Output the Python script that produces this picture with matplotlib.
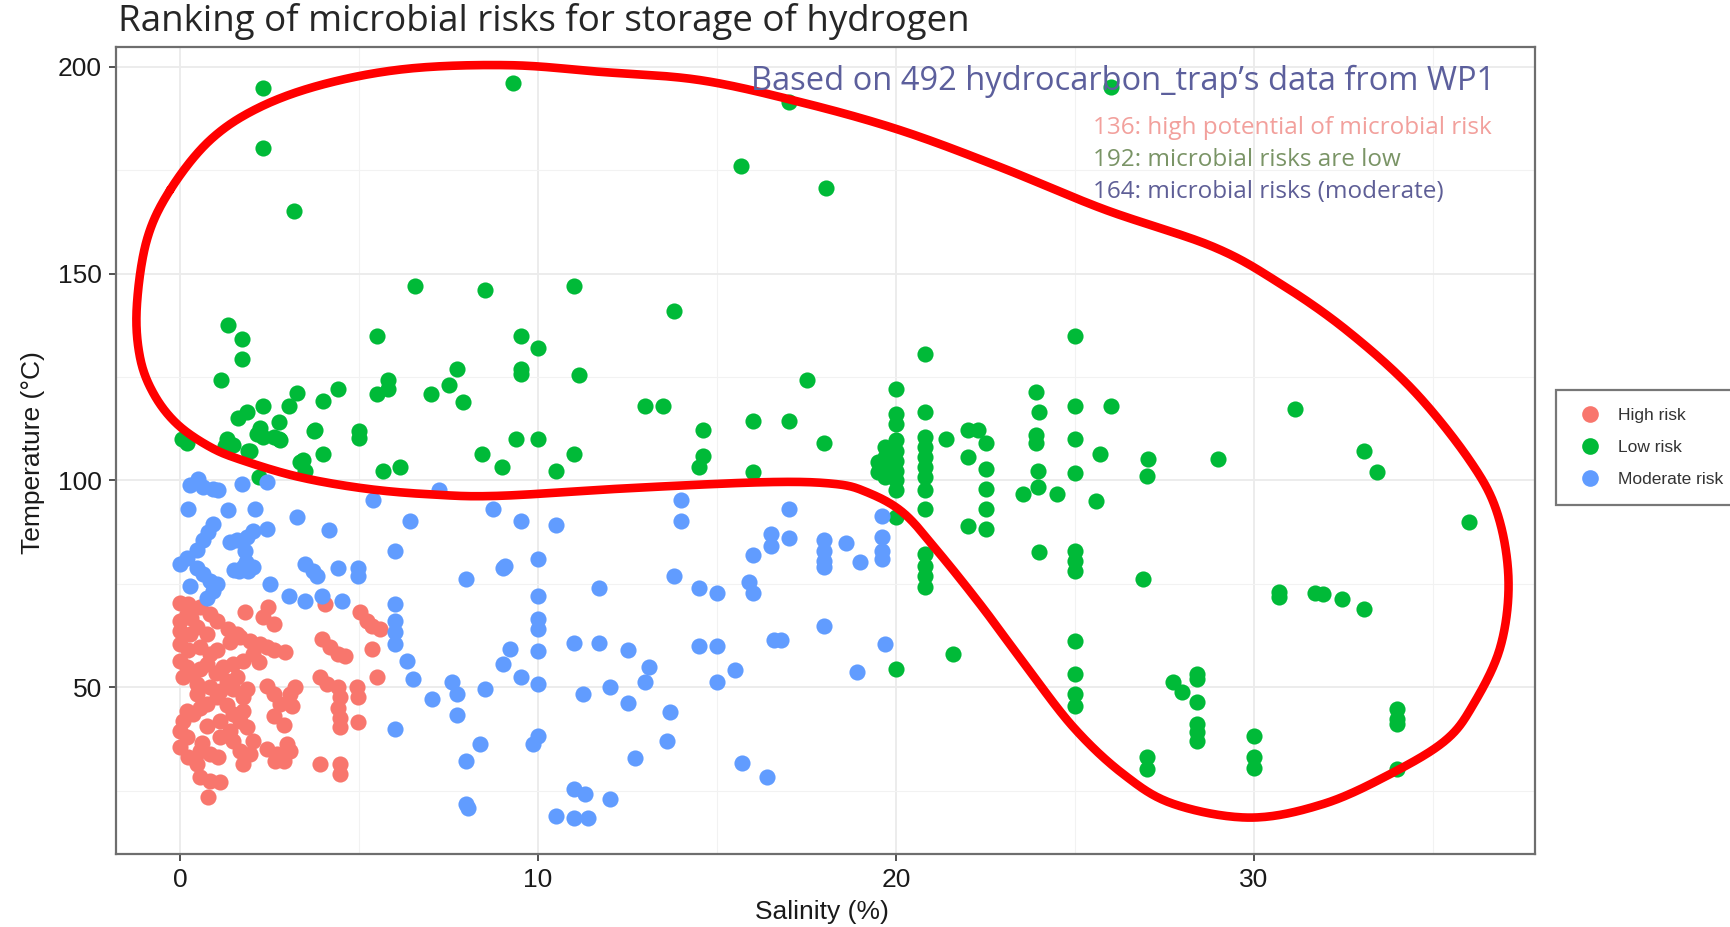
import numpy as np
import matplotlib
matplotlib.use("Agg")
import matplotlib.pyplot as plt
from matplotlib.lines import Line2D

# salinity (%) / temperature (degC) per trap and risk class
high_x = [0.0, 0.23, 0.56, 0.19, 0.0, 0.84, 1.02, 0.0, 0.47, 0.74, 1.35, 1.58, 1.81, 2.47, 2.33, 2.61,
          0.0, 0.23, 0.56, 0.84, 1.02, 1.40, 1.68, 1.96, 2.23, 2.42, 2.61, 2.93, 2.05, 1.77, 1.49, 1.21,
          0.0, 0.19, 0.37, 0.56, 0.74, 0.09, 0.47, 0.84, 1.12, 1.49, 1.86, 1.77, 1.02, 0.74, 0.47,
          2.42, 2.61, 2.79, 3.07, 3.21, 3.12, 2.61, 0.09, 0.0, 0.19, 0.37, 0.74, 1.12, 1.49, 1.68,
          1.86, 1.40, 1.49, 1.68, 1.77, 1.96, 2.05, 1.12, 0.0, 0.23, 0.56, 0.84, 1.07, 0.47, 0.56,
          0.84, 1.12, 0.79, 2.42, 2.70, 2.98, 3.07, 2.65, 2.89, 3.96, 4.19, 4.42, 4.61, 3.91, 4.47,
          4.47, 4.05, 5.03, 5.21, 5.35, 5.59, 5.35, 5.49, 3.91, 4.10, 4.42, 4.47, 4.42, 4.47, 4.47,
          4.93, 4.98, 4.98, 0.28, 1.30, 1.58, 0.19, 0.56, 1.77, 0.30, 1.00, 2.20, 2.90, 0.60, 1.30]
high_y = [70.5, 70.1, 69.3, 67.7, 66.1, 67.7, 66.1, 63.7, 64.5, 62.9, 64.1, 62.9, 68.1, 69.3, 66.9, 65.3,
          60.5, 58.9, 59.7, 58.0, 58.9, 60.9, 62.1, 61.3, 60.5, 59.7, 58.9, 58.5, 58.0, 56.4, 55.6, 54.8,
          56.4, 54.8, 53.2, 54.4, 55.6, 52.4, 50.8, 50.0, 49.2, 49.6, 49.6, 47.6, 47.6, 46.0, 48.4,
          50.4, 48.4, 46.0, 48.4, 50.0, 45.5, 43.1, 41.9, 39.5, 37.9, 43.5, 40.7, 41.9, 43.5, 41.9,
          40.3, 39.5, 37.1, 34.7, 31.4, 33.9, 37.1, 37.9, 35.5, 33.1, 34.7, 33.9, 33.1, 31.4, 28.2,
          27.4, 27.0, 23.4, 35.1, 33.9, 36.3, 34.7, 32.2, 32.2, 61.7, 59.7, 58.0, 57.6, 31.4, 31.4,
          29.0, 70.1, 68.1, 66.1, 64.9, 64.1, 59.3, 52.4, 52.4, 50.8, 50.0, 47.6, 45.1, 42.7, 40.3,
          50.0, 47.6, 41.5, 62.9, 51.6, 52.4, 44.3, 45.1, 44.3, 66.8, 53.5, 56.0, 41.0, 36.5, 45.8]

low_x = [2.31, 9.29, 17.0, 26.0, 2.31, 3.18, 15.67, 18.03,
         6.55, 8.51, 11.0, 13.8, 1.35, 1.72, 1.72, 1.14, 5.49, 9.52, 10.0, 9.52, 9.52, 11.14, 7.73,
         7.5, 7.9, 7.01, 5.82, 5.82, 5.49, 4.42, 4.0, 3.26, 3.03, 2.31, 1.86, 1.63, 2.75, 2.23, 2.33,
         2.75, 1.3, 1.26, 0.05, 0.2, 1.91, 3.75, 5.0, 5.0, 9.38, 9.99, 8.43, 11.0, 4.0, 3.44,
         25.0, 20.8, 17.5, 13.0, 13.5, 20.0, 23.9, 25.0, 26.0, 20.8, 24.0, 16.0, 17.0, 14.6, 18.0,
         21.4, 22.0, 22.3, 22.5, 23.9, 23.9, 25.0, 25.7, 14.6, 14.5, 10.5, 9.0, 16.0, 21.6, 20.0, 20.0,
         20.0, 20.0, 20.0, 20.0, 20.0, 20.0, 20.0, 20.0,
         19.7, 19.7, 19.7, 19.7, 19.5, 19.5,
         20.8, 20.8, 20.8, 20.8, 20.8, 20.8, 20.8, 20.8, 20.8, 20.8, 20.8,
         22.0, 22.5, 22.5, 22.5, 22.5, 22.0,
         23.98, 23.98, 23.56, 24.49, 25.0, 25.0, 25.0, 25.0, 25.0, 25.0, 25.0, 25.0, 25.6, 24.0,
         27.05, 27.0, 26.9, 29.0, 27.0, 27.0, 27.75, 27.98, 28.4, 28.4, 28.4, 28.4, 28.4, 28.4,
         30.0, 30.0, 30.0, 31.15, 30.7, 30.7, 31.7, 31.94, 32.45, 33.06, 33.06, 33.43, 36.0,
         34.0, 34.0, 34.0, 34.0,
         1.30, 1.49, 2.14, 2.61, 2.79, 1.96, 2.2, 3.35, 3.49, 3.77, 5.68, 6.14]
low_y = [195.0, 196.0, 191.5, 195.2, 180.5, 165.1, 176.0, 170.8,
         147.0, 146.0, 147.0, 141.0, 137.5, 134.2, 129.4, 124.2, 134.9, 134.9, 132.1, 127.0, 125.8, 125.6, 127.0,
         123.1, 118.9, 120.8, 124.2, 122.2, 121.0, 122.0, 119.1, 121.1, 118.1, 118.1, 116.5, 115.1, 114.2, 112.6, 110.4,
         110.0, 110.0, 108.4, 110.0, 109.0, 107.2, 111.9, 112.0, 110.3, 110.0, 110.0, 106.4, 106.4, 106.4, 105.0,
         134.9, 130.6, 124.4, 118.0, 118.0, 122.0, 121.3, 118.0, 118.0, 116.5, 116.5, 114.3, 114.3, 112.3, 109.1,
         110.1, 112.1, 112.1, 109.1, 111.0, 109.0, 110.1, 106.4, 106.0, 103.2, 102.3, 103.2, 102.0, 58.0, 54.4, 91.1,
         116.1, 113.7, 109.7, 107.2, 104.8, 102.4, 100.0, 97.6,
         108.1, 105.7, 103.3, 100.9, 104.5, 102.0,
         110.4, 108.0, 105.6, 103.2, 100.8, 97.6, 93.1, 82.3, 79.3, 77.0, 74.2,
         105.6, 102.8, 98.0, 93.1, 88.3, 89.1,
         102.4, 98.4, 96.8, 96.8, 101.8, 83.0, 80.6, 78.2, 61.3, 53.2, 48.4, 45.5, 95.0, 82.8,
         105.2, 101.2, 76.2, 105.2, 33.1, 30.2, 51.2, 48.8, 53.2, 52.0, 46.4, 41.1, 39.1, 37.1,
         38.3, 33.1, 30.6, 117.3, 73.0, 71.8, 72.9, 72.5, 71.3, 68.9, 107.2, 102.0, 89.9,
         44.7, 42.3, 41.1, 30.2,
         108.9, 108.5, 111.3, 110.5, 109.7, 107.2, 100.8, 104.4, 102.4, 112.1, 102.4, 103.2]

moderate_x = [0.51, 0.28, 0.65, 0.93, 1.07, 1.72, 2.42, 0.23, 1.35, 2.09, 3.26, 4.17, 0.93, 0.79, 0.65,
              2.42, 2.05, 1.86, 1.58, 1.40, 1.8, 1.85, 1.75, 1.65, 1.9, 1.5, 2.05, 0.47, 0.19, 0.0, 0.47,
              0.65, 0.84, 1.03, 0.93, 0.75, 0.28, 2.51, 6.0, 6.42, 5.4, 7.22, 8.75, 3.49, 3.72, 3.82,
              4.42, 4.98, 4.98, 3.03, 3.49, 3.96, 4.52, 6.0, 6.0, 6.0, 6.0, 6.33, 6.52, 7.03, 7.59,
              7.73, 7.73, 8.52, 8.0, 9.03, 6.0, 8.38, 8.0, 8.0, 8.05,
              14.0, 14.0, 9.52, 10.5, 17.0, 16.5, 16.5, 16.0, 17.0, 18.0, 18.0, 18.0, 18.0, 18.6, 19.0,
              19.6, 19.6, 19.6, 19.6, 9.99, 9.08, 13.8, 11.7, 14.5, 15.0, 15.9, 16.0, 9.99, 9.99, 9.99,
              9.99, 9.22, 9.03, 9.52, 9.99, 11.0, 11.7, 12.5, 14.5, 15.0, 16.6, 16.8, 18.0, 19.7, 18.9,
              15.5, 15.0, 13.1, 13.0, 12.0, 11.25, 12.5, 13.7, 13.6, 12.7, 9.99, 9.87, 15.7, 16.4, 12.0,
              11.0, 11.3, 10.5, 11.0, 11.4]
moderate_y = [100.4, 98.8, 98.4, 98.0, 97.6, 99.2, 99.6, 93.1, 92.9, 93.1, 91.1, 88.0, 89.5, 87.5, 85.5,
              88.3, 87.9, 86.3, 85.5, 85.1, 82.9, 80.4, 79.2, 78.0, 78.0, 78.4, 79.2, 83.3, 81.3, 79.7, 78.9,
              77.3, 75.7, 74.9, 73.3, 71.7, 74.5, 74.9, 83.0, 90.3, 95.2, 97.6, 93.1, 79.7, 78.1, 76.9,
              78.9, 78.9, 76.9, 72.1, 70.9, 72.1, 70.9, 70.1, 66.1, 63.3, 60.4, 56.3, 51.9, 47.1, 51.2,
              48.4, 43.2, 49.6, 76.2, 78.9, 39.9, 36.4, 32.2, 21.7, 20.8,
              95.2, 90.1, 90.1, 89.2, 93.1, 87.0, 84.2, 82.1, 86.1, 85.5, 83.0, 80.5, 79.0, 85.0, 80.2,
              86.3, 83.0, 81.0, 91.5, 80.9, 79.4, 77.0, 74.1, 74.0, 72.9, 75.4, 72.9, 72.1, 66.5, 64.0,
              58.8, 59.2, 55.6, 52.4, 50.8, 60.8, 60.8, 59.0, 60.0, 60.0, 61.4, 61.4, 64.9, 60.4, 53.8,
              54.2, 51.2, 55.0, 51.2, 50.1, 48.3, 46.1, 44.1, 37.0, 33.0, 38.3, 36.3, 31.8, 28.4, 23.0,
              25.3, 24.1, 18.9, 18.5, 18.5]

# hand-drawn outline around the low risk traps (salinity, temperature)
outline_x = [-0.28, 0.84, 2.24, 4.1, 6.42, 9.22, 11.73, 14.52, 17.32, 20.11, 22.9, 25.8, 28.86, 30.73,
             32.59, 34.45, 36.03, 36.8, 37.11, 36.88, 36.13, 35.34, 33.8, 31.94, 29.89, 27.75, 26.35,
             24.96, 23.6, 22.4, 21.2, 20.2, 19.18, 18.25, 16.39, 12.66, 8.94, 7.08, 5.21,
             3.35, 1.77, 0.84, -0.09, -0.74, -1.12, -1.21, -0.93]
outline_y = [170.2, 182.3, 190.3, 196.0, 199.6, 200.4, 198.8, 196.8, 191.5, 184.7, 175.8, 165.6, 156.5,
             147.6, 136.3, 121.8, 104.8, 92.0, 75.8, 59.7, 45.9, 37.1, 29.0, 21.8, 18.5, 21.8, 29.0,
             40.3, 55.5, 69.5, 82.5, 92.2, 97.2, 99.2, 99.6, 98.2, 96.3, 96.6, 98.0, 100.8,
             104.8, 108.1, 113.7, 121.0, 129.8, 141.9, 158.1]

x_ticks = [0, 10, 20, 30]
y_ticks = [50, 100, 150, 200]

colors = {"High risk": "#F8766D", "Low risk": "#00BA38", "Moderate risk": "#619CFF"}


def closed_spline(xs, ys, n=30):
    # uniform Catmull-Rom through the points, wrapping round
    p = np.column_stack([xs, ys])
    m = len(p)
    out = []
    t = np.linspace(0, 1, n, endpoint=False)[:, None]
    for i in range(m):
        p0, p1, p2, p3 = p[i - 1], p[i], p[(i + 1) % m], p[(i + 2) % m]
        seg = 0.5 * ((2 * p1) + (-p0 + p2) * t + (2 * p0 - 5 * p1 + 4 * p2 - p3) * t ** 2
                     + (-p0 + 3 * p1 - 3 * p2 + p3) * t ** 3)
        out.append(seg)
    out = np.vstack(out)
    out = np.vstack([out, out[:1]])
    return out[:, 0], out[:, 1]


W, H = 1731, 927
fig = plt.figure(figsize=(W / 100, H / 100), dpi=100)
ax = fig.add_axes([116 / W, 1 - 854 / H, 1419 / W, 807 / H])

ax.scatter(high_x, high_y, s=135, color=colors["High risk"], linewidths=0, zorder=3)
ax.scatter(low_x, low_y, s=135, color=colors["Low risk"], linewidths=0, zorder=3)
ax.scatter(moderate_x, moderate_y, s=135, color=colors["Moderate risk"], linewidths=0, zorder=3)

cx, cy = closed_spline(outline_x, outline_y)
ax.plot(cx, cy, color="#FF0000", lw=6.2, solid_capstyle="round", zorder=5)

ax.set_xlim(-1.79, 37.85)
ax.set_ylim(9.7, 204.8)
ax.set_xticks(x_ticks)
ax.set_yticks(y_ticks)
ax.set_xticks([5, 15, 25, 35], minor=True)
ax.set_yticks([25, 75, 125, 175], minor=True)
ax.grid(True, which="major", color="#EBEBEB", lw=1.3, zorder=0)
ax.grid(True, which="minor", color="#F2F2F2", lw=0.8, zorder=0)
ax.tick_params(which="minor", length=0)
ax.tick_params(which="major", length=5, width=1.2, color="#333333", labelsize=19,
               labelcolor="#1A1A1A", pad=5)
for lab in ax.get_xticklabels() + ax.get_yticklabels():
    lab.set_family("Liberation Sans")
for sp in ax.spines.values():
    sp.set_color("#6E6E6E")
    sp.set_linewidth(1.6)

fig.text(822 / W, 1 - 912 / H, "Salinity (%)", ha="center", va="center", fontsize=19,
         family="Liberation Sans", color="#1A1A1A")
fig.text(33 / W, 1 - 453 / H, "Temperature (°C)", ha="center", va="center", rotation=90,
         fontsize=19, family="Liberation Sans", color="#1A1A1A")

fig.text(118 / W, 1 - 22 / H, "Ranking of microbial risks for storage of hydrogen", ha="left",
         va="center", fontsize=26.5, family="Open Sans", color="#262626")

fig.text(751 / W, 1 - 81 / H, "Based on 492 hydrocarbon_trap’s data from WP1", ha="left",
         va="center", fontsize=23.5, family="Open Sans", color="#5C5F9C")
fig.text(1093 / W, 1 - 128 / H, "136: high potential of microbial risk", ha="left", va="center",
         fontsize=17.5, family="Open Sans", color="#F2A09C")
fig.text(1093 / W, 1 - 160 / H, "192: microbial risks are low", ha="left", va="center",
         fontsize=17.5, family="Open Sans", color="#7A9466")
fig.text(1093 / W, 1 - 192 / H, "164: microbial risks (moderate)", ha="left", va="center",
         fontsize=17.5, family="Open Sans", color="#5E5E96")

handles = [Line2D([], [], ls="", marker="o", ms=12, mec="none", color=c) for c in colors.values()]
leg = fig.legend(handles, list(colors.keys()), loc="upper left",
                 bbox_to_anchor=(1556 / W, 1 - 390 / H), borderaxespad=0, frameon=True,
                 fancybox=False, prop={"family": "Liberation Sans", "size": 12.5},
                 labelcolor="#333333", handletextpad=0.7, labelspacing=0.95, borderpad=1.05,
                 handlelength=1.8)
leg.get_frame().set_edgecolor("#555555")
leg.get_frame().set_linewidth(1.6)

fig.savefig("out.png", dpi=100, facecolor="white")
